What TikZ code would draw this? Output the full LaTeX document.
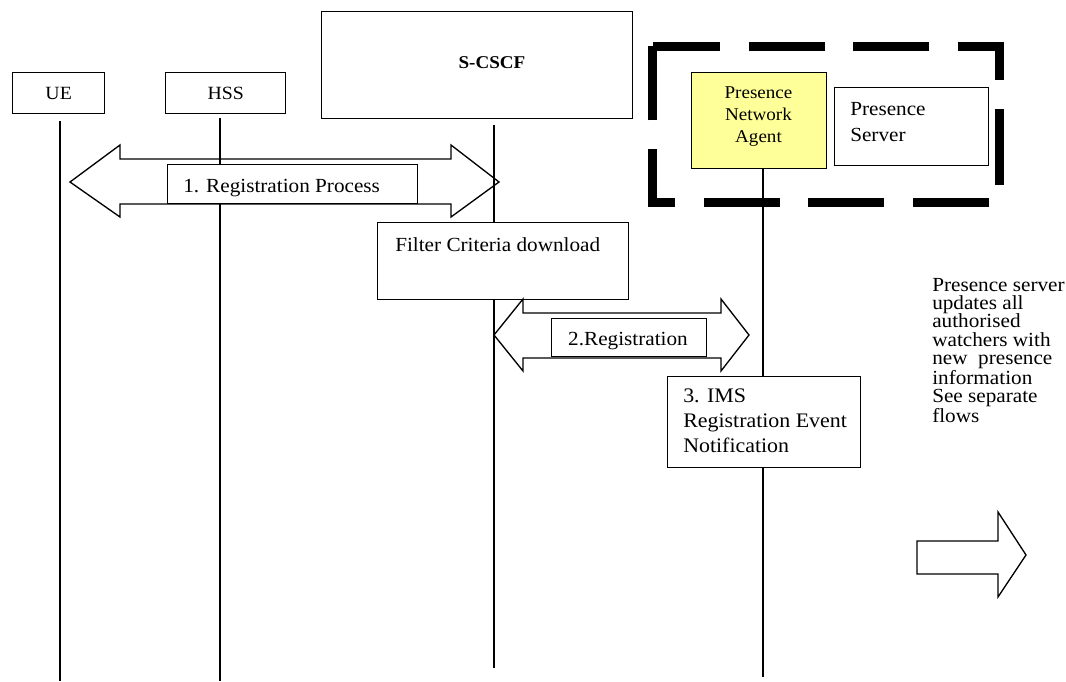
\documentclass[tikz,border=0pt]{standalone}
\usepackage{fontspec}
\setmainfont{Liberation Serif}[FakeStretch=1.06]
\usetikzlibrary{backgrounds}
\definecolor{pnayellow}{RGB}{255,255,153}
\def\pxu{0.75pt}
\begin{document}
\begin{tikzpicture}[x=0.75pt,y=-0.75pt,
  box/.style={draw, line width=1pt, fill=white, inner sep=0pt, anchor=north west},
  life/.style={line width=0.8pt},
  blockarrow/.style={draw, line width=1pt, line join=miter},
  txt/.style={inner sep=0pt, font=\fontsize{15}{18}\selectfont},
  dashframe/.style={line width=6.75pt, dash pattern=on 57pt off 21.375pt, dash phase=6.375pt},
]
\useasboundingbox (0,0) rectangle (1066,681);

% heads
\node[box, minimum width=92*\pxu, minimum height=41*\pxu, font=\fontsize{14}{17}\selectfont] (ue) at (12,72) {UE};
\node[box, minimum width=120*\pxu, minimum height=41*\pxu, font=\fontsize{14}{17}\selectfont] (hss) at (165,72) {HSS};
\node[box, minimum width=311*\pxu, minimum height=107*\pxu] (scscf) at (321,11) {};
\node[inner sep=0pt, anchor=base, font=\fontsize{13.5}{16}\selectfont\bfseries] (scscfT) at (492,69) {S-CSCF};

% presence domain
\draw[dashframe] (652.5,46.5) -- (999.5,46.5) -- (999.5,202.5) -- (652.5,202.5) -- cycle;
\node[box, fill=pnayellow, minimum width=135*\pxu, minimum height=96*\pxu] (pna) at (691,72) {};
\node[txt, anchor=north, align=center, font=\fontsize{13.5}{16.5}\selectfont] (pnaT) at (758.5,86) {Presence\\Network\\Agent};
\node[box, minimum width=154*\pxu, minimum height=78*\pxu] (ps) at (834,87) {};
\node[txt, anchor=north west, align=left, font=\fontsize{15}{19.5}\selectfont] (psT) at (850,102) {Presence\\Server};

% lifelines
\coordinate (ueEnd) at (60,681);
\coordinate (hssEnd) at (220,681);
\coordinate (cscfEnd) at (494,668);
\coordinate (pnaEnd) at (763,677);
\begin{pgfonlayer}{background}
\draw[life, shorten <=5pt] (ue.south -| ueEnd) -- (ueEnd);
\draw[life, shorten <=3pt] (hss.south -| hssEnd) -- (hssEnd);
\draw[life, shorten <=4pt] (scscf.south -| cscfEnd) -- (cscfEnd);
\draw[life] (pna.south -| pnaEnd) -- (pnaEnd);
\end{pgfonlayer}

% 1. Registration process
\draw[blockarrow] (70,182) -- (120,145) -- (120,159) -- (451,159) -- (451,145) -- (499,182) -- (451,217) -- (451,204) -- (120,204) -- (120,217) -- cycle;
\node[box, minimum width=250*\pxu, minimum height=39*\pxu] (l1) at (167,164) {};
\node[txt, anchor=base west] (l1T) at (183,192) {1. Registration Process};

% filter criteria
\node[box, minimum width=251*\pxu, minimum height=77*\pxu] (fc) at (377,222) {};
\node[txt, anchor=base west] (fcT) at (395,251) {Filter Criteria download};

% 2. Registration
\draw[blockarrow] (494,335) -- (523,299) -- (523,313) -- (721,313) -- (721,299) -- (749,335) -- (721,371) -- (721,358) -- (523,358) -- (523,371) -- cycle;
\node[box, minimum width=155*\pxu, minimum height=38*\pxu] (l2) at (551,318) {};
\node[txt, anchor=base] (l2T) at (628,345) {2.Registration};

% 3. IMS registration event notification
\node[box, minimum width=193*\pxu, minimum height=91*\pxu] (ims) at (667,376) {};
\node[txt, anchor=north west, align=left, font=\fontsize{15.5}{18.75}\selectfont] (imsT) at (683,389) {3. IMS\\Registration Event\\Notification};

% right side note and arrow
\node[txt, anchor=north west, align=left, font=\fontsize{15}{13.7}\selectfont] (note) at (932,278) {Presence server\\updates all\\authorised\\watchers with\\new~ presence\\information\\See separate\\flows};
\draw[blockarrow] (917,541) -- (998,541) -- (998,512) -- (1026,555) -- (998,597) -- (998,574) -- (917,574) -- cycle;
\end{tikzpicture}
\end{document}
